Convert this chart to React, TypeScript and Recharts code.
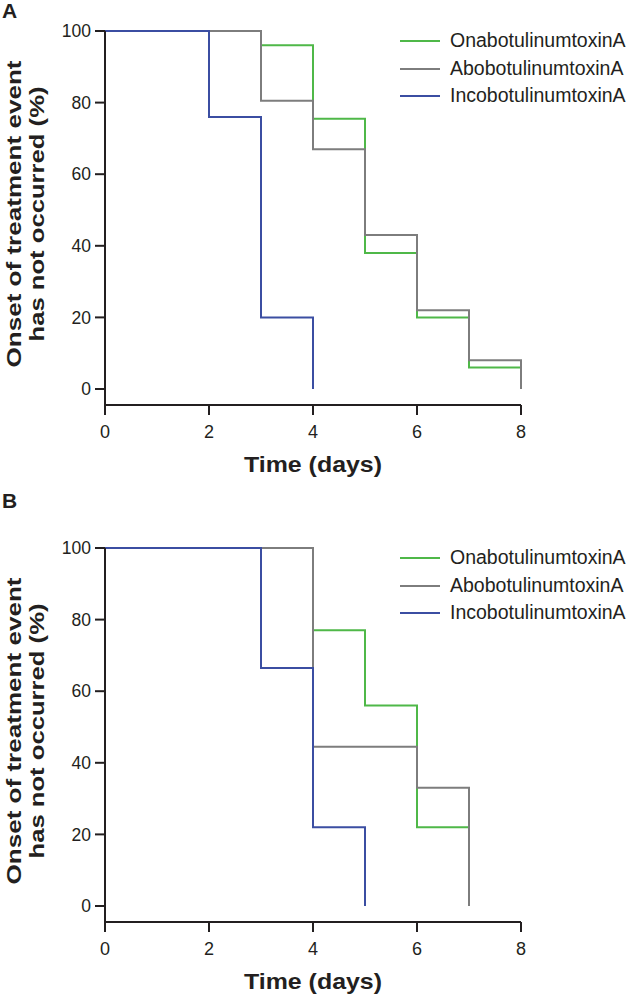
import React from "react";
import { LineChart, Line, XAxis, YAxis, Legend } from "recharts";

// panel A: days at which the curve steps, and % without onset
const aOnaDays = [0, 3, 4, 5, 6, 7, 8];
const aOnaPct = [100, 96, 75.5, 38, 20, 6, 0];
const aAboDays = [0, 3, 4, 5, 6, 7, 8];
const aAboPct = [100, 80.5, 67, 43, 22, 8, 0];
const aIncoDays = [0, 2, 3, 4];
const aIncoPct = [100, 76, 20, 0];

// panel B
const bOnaDays = [0, 4, 5, 6, 7];
const bOnaPct = [100, 77, 56, 22, 0];
const bAboDays = [0, 4, 6, 7];
const bAboPct = [100, 44.5, 33, 0];
const bIncoDays = [0, 3, 4, 5];
const bIncoPct = [100, 66.5, 22, 0];

const seriesNames = ["OnabotulinumtoxinA", "AbobotulinumtoxinA", "IncobotulinumtoxinA"];
const seriesColors = ["#4fb848", "#7d7d7d", "#3b4ea2"];
const xTicks = [0, 2, 4, 6, 8];
const yTicks = [0, 20, 40, 60, 80, 100];

const zip = (days: number[], pct: number[]) => days.map((d, i) => ({ day: d, pct: pct[i] }));

const AXIS = "#231f20";
const FONT = "'Liberation Sans', Arial, sans-serif";
const PLOT_H = 374;

function LegendBox() {
  return (
    <div style={{ fontFamily: FONT, fontSize: 19.5, color: AXIS }}>
      {seriesNames.map((n, i) => (
        <div key={n} style={{ height: 27.5, lineHeight: "27.5px", whiteSpace: "nowrap", position: "relative" }}>
          <span
            style={{
              position: "absolute",
              left: 0,
              top: 13,
              width: 40,
              height: 2,
              background: seriesColors[i],
            }}
          />
          <span style={{ position: "absolute", left: 50, top: 0 }}>{n}</span>
        </div>
      ))}
    </div>
  );
}

function Panel({
  letter,
  height,
  top,
  legendTop,
  series,
}: {
  letter: string;
  height: number;
  top: number;
  legendTop: number;
  series: { day: number; pct: number }[][];
}) {
  const bottom = top + PLOT_H;
  const midY = top + PLOT_H / 2 - 4;
  const yLabel = () => (
    <g fontFamily={FONT} fontWeight="bold" fontSize={21} fill={AXIS}>
      <text x={20.5} y={midY} transform={`rotate(-90 20.5 ${midY})`} textAnchor="middle" textLength={307} lengthAdjust="spacingAndGlyphs">
        Onset of treatment event
      </text>
      <text x={44} y={midY} transform={`rotate(-90 44 ${midY})`} textAnchor="middle" textLength={255} lengthAdjust="spacingAndGlyphs">
        has not occurred (%)
      </text>
    </g>
  );
  const xLabel = () => (
    <text
      x={313}
      y={bottom + 67}
      textAnchor="middle"
      fontFamily={FONT}
      fontWeight="bold"
      fontSize={22}
      fill={AXIS}
      textLength={138}
      lengthAdjust="spacingAndGlyphs"
    >
      Time (days)
    </text>
  );
  return (
    <div style={{ position: "relative", width: 626, height }}>
      <div
        style={{
          position: "absolute",
          left: 2,
          top: 0,
          fontFamily: FONT,
          fontWeight: "bold",
          fontSize: 21,
          lineHeight: "21px",
          color: AXIS,
          zIndex: 2,
        }}
      >
        {letter}
      </div>
      <LineChart width={626} height={height} margin={{ top, right: 105, bottom: 0, left: 0 }}>
        <XAxis
          dataKey="day"
          type="number"
          domain={[0, 8]}
          ticks={xTicks}
          height={height - top - PLOT_H}
          axisLine={{ stroke: AXIS, strokeWidth: 2 }}
          tickLine={{ stroke: AXIS, strokeWidth: 2 }}
          tickSize={10}
          tickMargin={10}
          tick={{ fontSize: 18, fill: AXIS, fontFamily: FONT }}
          label={xLabel}
        />
        <YAxis
          type="number"
          domain={[-4.47, 100]}
          ticks={yTicks}
          width={105}
          axisLine={{ stroke: AXIS, strokeWidth: 2 }}
          tickLine={{ stroke: AXIS, strokeWidth: 2 }}
          tickSize={10}
          tickMargin={4}
          tick={{ fontSize: 17.5, fill: AXIS, fontFamily: FONT }}
          label={yLabel}
        />
        <Legend
          layout="vertical"
          align="center"
          verticalAlign="middle"
          wrapperStyle={{ top: legendTop, left: 400, width: 226 }}
          content={() => <LegendBox />}
        />
        {series.map((d, i) => (
          <Line
            key={seriesNames[i]}
            data={d}
            dataKey="pct"
            name={seriesNames[i]}
            type="stepAfter"
            stroke={seriesColors[i]}
            strokeWidth={2}
            dot={false}
            activeDot={false}
            isAnimationActive={false}
          />
        ))}
      </LineChart>
    </div>
  );
}

export default function App() {
  const a = [zip(aOnaDays, aOnaPct), zip(aAboDays, aAboPct), zip(aIncoDays, aIncoPct)];
  const b = [zip(bOnaDays, bOnaPct), zip(bAboDays, bAboPct), zip(bIncoDays, bIncoPct)];
  return (
    <div style={{ width: 626, height: 996, background: "#fff" }}>
      <style>{"body{margin:0}"}</style>
      <Panel letter="A" height={490} top={31} legendTop={27} series={a} />
      <Panel letter="B" height={506} top={58} legendTop={54} series={b} />
    </div>
  );
}
